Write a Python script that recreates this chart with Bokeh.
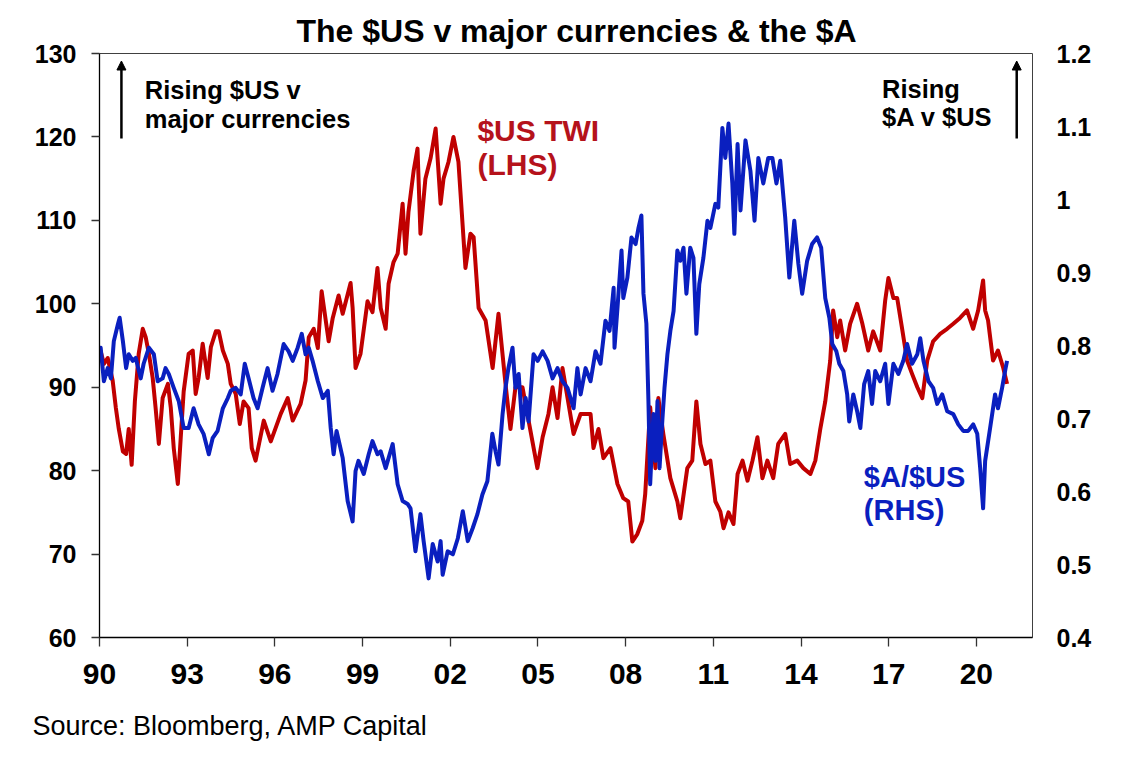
from bokeh.plotting import figure
from bokeh.models import (Range1d, LinearAxis, FixedTicker, CustomJSTickFormatter,
                          Label, Arrow, NormalHead, Title)
from bokeh.embed import file_html
from bokeh.resources import INLINE

# ---------------- data ----------------
twi_years = [1990.00, 1990.04, 1990.15, 1990.28, 1990.45, 1990.56, 1990.66, 1990.80, 1990.91, 1991.00,
             1991.10, 1991.21, 1991.34, 1991.48, 1991.58, 1991.69, 1991.82, 1991.92, 1992.03, 1992.16,
             1992.34, 1992.44, 1992.54, 1992.68, 1992.78, 1992.88, 1993.05, 1993.19, 1993.29, 1993.39,
             1993.53, 1993.70, 1993.81, 1993.98, 1994.08, 1994.22, 1994.39, 1994.49, 1994.66, 1994.80,
             1994.93, 1995.10, 1995.21, 1995.34, 1995.62, 1995.86, 1996.20, 1996.44, 1996.61, 1996.88,
             1997.05, 1997.16, 1997.33, 1997.47, 1997.60, 1997.84, 1997.98, 1998.18, 1998.32, 1998.59,
             1998.66, 1998.76, 1998.93, 1999.17, 1999.34, 1999.51, 1999.62, 1999.79, 1999.89, 2000.06,
             2000.20, 2000.37, 2000.47, 2000.57, 2000.75, 2000.88, 2000.98, 2001.15, 2001.33, 2001.50,
             2001.67, 2001.77, 2001.94, 2002.11, 2002.28, 2002.52, 2002.69, 2002.80, 2002.97, 2003.21,
             2003.45, 2003.65, 2003.89, 2004.06, 2004.23, 2004.47, 2004.68, 2004.98, 2005.16, 2005.36,
             2005.50, 2005.67, 2005.84, 2006.22, 2006.46, 2006.80, 2006.90, 2007.07, 2007.24, 2007.48,
             2007.72, 2007.92, 2008.09, 2008.23, 2008.40, 2008.57, 2008.67, 2008.84, 2009.02, 2009.12,
             2009.29, 2009.53, 2009.77, 2009.87, 2010.11, 2010.28, 2010.42, 2010.56, 2010.73, 2010.90,
             2011.07, 2011.24, 2011.35, 2011.52, 2011.69, 2011.83, 2012.00, 2012.17, 2012.34, 2012.51,
             2012.68, 2012.85, 2013.05, 2013.22, 2013.46, 2013.63, 2013.87, 2014.08, 2014.32, 2014.49,
             2014.66, 2014.83, 2015.00, 2015.10, 2015.24, 2015.34, 2015.51, 2015.68, 2015.92, 2016.10,
             2016.30, 2016.47, 2016.71, 2016.88, 2016.99, 2017.16, 2017.29, 2017.46, 2017.63, 2017.80,
             2017.98, 2018.15, 2018.32, 2018.52, 2018.76, 2019.00, 2019.21, 2019.44, 2019.68, 2019.89,
             2020.06, 2020.23, 2020.30, 2020.40, 2020.57, 2020.74, 2020.92, 2021.05]
twi_values = [93.0, 94.3, 92.8, 93.5, 90.8, 87.5, 85.0, 82.3, 82.0, 85.0,
              80.7, 88.3, 94.0, 97.0, 96.0, 94.0, 91.1, 87.5, 83.2, 88.7,
              90.4, 87.5, 82.7, 78.4, 84.0, 89.5, 94.0, 94.4, 89.2, 91.1,
              95.2, 91.1, 94.8, 96.7, 96.7, 94.4, 92.8, 90.4, 89.2, 85.6,
              88.3, 87.5, 82.7, 81.2, 86.0, 83.5, 86.8, 88.7, 86.0, 88.0,
              90.8, 96.0, 97.0, 94.7, 101.5, 95.5, 98.3, 101.0, 98.8, 102.5,
              99.5, 92.3, 94.0, 100.3, 99.0, 104.3, 99.5, 97.0, 102.4, 105.0,
              106.0, 112.0, 106.0, 111.0, 116.0, 118.6, 108.4, 115.0, 117.5, 121.0,
              112.0, 115.0, 117.0, 120.0, 117.0, 104.3, 108.4, 108.0, 99.5, 98.0,
              92.3, 98.8, 90.4, 85.0, 90.0, 90.0, 86.0, 80.3, 84.0, 86.8,
              90.0, 86.3, 92.3, 84.4, 86.8, 86.8, 82.7, 85.0, 81.5, 82.7,
              78.4, 76.7, 76.3, 71.5, 72.4, 74.0, 77.2, 87.6, 80.3, 88.7,
              84.4, 79.1, 76.3, 74.3, 80.3, 81.2, 88.3, 83.2, 80.8, 81.2,
              76.3, 75.1, 73.1, 75.0, 73.6, 79.6, 81.2, 78.8, 81.2, 84.0,
              79.1, 81.2, 79.1, 83.2, 84.4, 80.8, 81.2, 80.3, 79.6, 81.2,
              85.0, 88.3, 93.2, 99.2, 96.0, 98.0, 94.4, 97.6, 100.0, 97.6,
              94.4, 96.7, 94.4, 100.4, 103.1, 100.7, 100.7, 97.0, 93.2, 91.6,
              90.0, 88.7, 93.2, 95.5, 96.4, 97.0, 97.6, 98.3, 99.2, 97.0,
              99.2, 102.8, 99.2, 98.0, 93.2, 94.4, 92.3, 90.4]

aud_years = [1990.00, 1990.04, 1990.15, 1990.28, 1990.39, 1990.49, 1990.63, 1990.69, 1990.80, 1990.91,
             1991.00, 1991.14, 1991.24, 1991.41, 1991.51, 1991.69, 1991.86, 1991.99, 1992.16, 1992.26,
             1992.37, 1992.54, 1992.71, 1992.88, 1993.05, 1993.22, 1993.39, 1993.56, 1993.74, 1993.87,
             1994.04, 1994.22, 1994.39, 1994.49, 1994.66, 1994.83, 1994.97, 1995.10, 1995.27, 1995.41,
             1995.58, 1995.75, 1995.92, 1996.09, 1996.30, 1996.47, 1996.61, 1996.78, 1996.92, 1997.05,
             1997.16, 1997.29, 1997.47, 1997.64, 1997.81, 1997.91, 1998.01, 1998.11, 1998.32, 1998.49,
             1998.66, 1998.76, 1998.86, 1999.04, 1999.21, 1999.34, 1999.51, 1999.62, 1999.79, 2000.03,
             2000.20, 2000.37, 2000.54, 2000.64, 2000.81, 2000.98, 2001.09, 2001.26, 2001.40, 2001.57,
             2001.67, 2001.74, 2001.91, 2002.09, 2002.26, 2002.43, 2002.60, 2002.77, 2002.93, 2003.10,
             2003.27, 2003.44, 2003.55, 2003.65, 2003.79, 2003.89, 2003.99, 2004.13, 2004.23, 2004.34,
             2004.47, 2004.58, 2004.68, 2004.85, 2004.99, 2005.16, 2005.33, 2005.50, 2005.67, 2005.84,
             2006.01, 2006.22, 2006.35, 2006.46, 2006.63, 2006.80, 2006.97, 2007.14, 2007.31, 2007.45,
             2007.59, 2007.62, 2007.72, 2007.86, 2007.92, 2008.06, 2008.20, 2008.34, 2008.44, 2008.54,
             2008.61, 2008.71, 2008.78, 2008.84, 2008.95, 2009.02, 2009.09, 2009.16, 2009.26, 2009.33,
             2009.43, 2009.53, 2009.64, 2009.77, 2009.87, 2009.98, 2010.08, 2010.21, 2010.32, 2010.42,
             2010.52, 2010.66, 2010.80, 2010.90, 2011.07, 2011.17, 2011.31, 2011.41, 2011.52, 2011.65,
             2011.72, 2011.83, 2011.93, 2012.10, 2012.27, 2012.41, 2012.54, 2012.71, 2012.88, 2013.02,
             2013.16, 2013.29, 2013.46, 2013.60, 2013.77, 2013.91, 2014.04, 2014.21, 2014.38, 2014.55,
             2014.69, 2014.83, 2014.97, 2015.07, 2015.21, 2015.31, 2015.45, 2015.58, 2015.65, 2015.79,
             2015.92, 2016.03, 2016.16, 2016.30, 2016.43, 2016.54, 2016.71, 2016.88, 2016.99, 2017.16,
             2017.33, 2017.50, 2017.63, 2017.80, 2017.98, 2018.08, 2018.19, 2018.36, 2018.52, 2018.66,
             2018.83, 2019.00, 2019.21, 2019.38, 2019.55, 2019.72, 2019.89, 2020.03, 2020.13, 2020.23,
             2020.30, 2020.47, 2020.64, 2020.74, 2020.88, 2021.00, 2021.05]
aud_values = [0.790, 0.797, 0.751, 0.769, 0.755, 0.806, 0.829, 0.838, 0.806, 0.769,
              0.788, 0.779, 0.783, 0.755, 0.775, 0.797, 0.788, 0.751, 0.755, 0.769,
              0.761, 0.742, 0.724, 0.687, 0.687, 0.714, 0.692, 0.679, 0.651, 0.673,
              0.683, 0.714, 0.728, 0.738, 0.742, 0.733, 0.775, 0.755, 0.728, 0.714,
              0.742, 0.769, 0.738, 0.761, 0.802, 0.792, 0.779, 0.797, 0.816, 0.788,
              0.797, 0.779, 0.751, 0.728, 0.738, 0.687, 0.651, 0.683, 0.646, 0.587,
              0.559, 0.628, 0.642, 0.624, 0.651, 0.669, 0.651, 0.655, 0.632, 0.665,
              0.610, 0.587, 0.583, 0.577, 0.518, 0.569, 0.532, 0.481, 0.528, 0.504,
              0.532, 0.486, 0.518, 0.514, 0.536, 0.573, 0.532, 0.550, 0.569, 0.596,
              0.614, 0.679, 0.655, 0.637, 0.706, 0.742, 0.769, 0.797, 0.742, 0.761,
              0.687, 0.728, 0.696, 0.788, 0.779, 0.792, 0.779, 0.755, 0.769, 0.751,
              0.742, 0.714, 0.769, 0.733, 0.769, 0.751, 0.792, 0.775, 0.834, 0.820,
              0.879, 0.797, 0.851, 0.930, 0.865, 0.893, 0.948, 0.939, 0.961, 0.978,
              0.871, 0.830, 0.724, 0.610, 0.706, 0.642, 0.724, 0.632, 0.700, 0.742,
              0.788, 0.820, 0.847, 0.930, 0.916, 0.934, 0.871, 0.934, 0.920, 0.816,
              0.884, 0.920, 0.971, 0.961, 0.994, 0.989, 1.098, 1.057, 1.104, 1.022,
              0.953, 1.076, 0.985, 1.081, 1.039, 0.971, 1.057, 1.022, 1.057, 1.057,
              1.022, 1.053, 0.975, 0.893, 0.971, 0.912, 0.871, 0.916, 0.939, 0.948,
              0.934, 0.865, 0.838, 0.802, 0.792, 0.775, 0.765, 0.733, 0.696, 0.733,
              0.710, 0.687, 0.747, 0.765, 0.720, 0.765, 0.751, 0.775, 0.720, 0.775,
              0.761, 0.779, 0.802, 0.775, 0.788, 0.810, 0.779, 0.751, 0.742, 0.720,
              0.733, 0.710, 0.706, 0.692, 0.683, 0.683, 0.692, 0.679, 0.632, 0.577,
              0.642, 0.687, 0.733, 0.714, 0.742, 0.769, 0.779]

x_ticks = [1990, 1993, 1996, 1999, 2002, 2005, 2008, 2011, 2014, 2017, 2020]
x_tick_labels = ["90", "93", "96", "99", "02", "05", "08", "11", "14", "17", "20"]
left_ticks = [60, 70, 80, 90, 100, 110, 120, 130]
left_tick_labels = ["60", "70", "80", "90", "100", "110", "120", "130"]
right_ticks = [0.4, 0.5, 0.6, 0.7, 0.8, 0.9, 1.0, 1.1, 1.2]
right_tick_labels = ["0.4", "0.5", "0.6", "0.7", "0.8", "0.9", "1", "1.1", "1.2"]

title_text = "The $US v major currencies & the $A"
source_text = "Source: Bloomberg, AMP Capital"

# ---------------- styling ----------------
FONT = "Liberation Sans"
RED = "#C00000"
RED_TXT = "#B5121B"
BLUE = "#0A1FBF"

p = figure(frame_width=933, frame_height=584, output_backend="svg", toolbar_location=None,
           x_range=Range1d(1990, 2021.92), y_range=Range1d(60, 130),
           min_border_left=99, min_border_right=81, min_border_top=53, min_border_bottom=0,
           background_fill_color="white", border_fill_color="white")
p.extra_y_ranges = {"right": Range1d(0.4, 1.2)}
p.grid.visible = False
p.outline_line_color = "#404040"
p.outline_line_width = 1

p.title.text = title_text
p.title.align = "left"
p.title.offset = 197
p.title.text_font = FONT
p.title.text_font_size = "32px"
p.title.text_font_style = "bold"
p.title.text_color = "black"
p.title.standoff = 10

src = Title(text=source_text, align="left", offset=-67, text_font=FONT,
            text_font_size="27px", text_font_style="normal", text_color="black", standoff=44)
p.add_layout(src, "below")

def fmt(tick_values, tick_labels):
    return CustomJSTickFormatter(args=dict(tvals=tick_values, tlabs=tick_labels),
                                 code="const i = tvals.indexOf(tick); return i >= 0 ? tlabs[i] : '';")

xa = p.xaxis[0]
xa.ticker = FixedTicker(ticks=x_ticks)
xa.formatter = fmt(x_ticks, x_tick_labels)
xa.major_label_text_font = FONT
xa.major_label_text_font_style = "bold"
xa.major_label_text_font_size = "30px"
xa.major_label_text_color = "black"
xa.major_tick_out = 9
xa.major_tick_in = 0
xa.minor_tick_line_color = None
xa.major_label_standoff = 17
xa.axis_line_color = "black"
xa.axis_line_width = 1.3
xa.major_tick_line_width = 1.3
xa.major_tick_line_color = "#333333"

ya = p.yaxis[0]
ya.ticker = FixedTicker(ticks=left_ticks)
ya.formatter = fmt(left_ticks, left_tick_labels)
ya.major_label_text_font = FONT
ya.major_label_text_font_style = "bold"
ya.major_label_text_font_size = "25px"
ya.major_label_text_color = "black"
ya.major_tick_out = 8
ya.major_tick_in = 0
ya.minor_tick_line_color = None
ya.major_label_standoff = 15
ya.axis_line_color = "black"
ya.axis_line_width = 1.3
ya.major_tick_line_width = 1.3
ya.major_tick_line_color = "#333333"

ra = LinearAxis(y_range_name="right", ticker=FixedTicker(ticks=right_ticks),
                formatter=fmt(right_ticks, right_tick_labels))
ra.major_label_text_font = FONT
ra.major_label_text_font_style = "bold"
ra.major_label_text_font_size = "25px"
ra.major_label_text_color = "black"
ra.major_tick_out = 0
ra.major_tick_in = 0
ra.major_tick_line_color = None
ra.minor_tick_line_color = None
ra.axis_line_color = None
ra.major_label_standoff = 24
p.add_layout(ra, "right")

# ---------------- series ----------------
p.line(twi_years, twi_values, line_color=RED, line_width=4, line_join="round")
p.line(aud_years, aud_values, line_color=BLUE, line_width=4, line_join="round",
       y_range_name="right")

# ---------------- texts inside the frame ----------------
def lab(x, y, text, size, color="black", style="bold", align="left"):
    p.add_layout(Label(x=x, y=y, text=text, text_font=FONT, text_font_size=size,
                       text_font_style=style, text_color=color, text_align=align,
                       text_baseline="alphabetic"))

lab(1991.55, 125.61, "Rising $US v", "25.5px")
lab(1991.55, 122.14, "major currencies", "25.5px")
lab(2016.77, 125.73, "Rising", "25.5px")
lab(2016.77, 122.33, "$A v $US", "25.5px")

lab(2002.93, 120.73, "$US TWI", "30px", color=RED_TXT)
lab(2002.93, 116.66, "(LHS)", "30px", color=RED_TXT)
lab(2016.15, 79.26, "$A/$US", "29px", color=BLUE)
lab(2016.15, 75.27, "(RHS)", "29px", color=BLUE)

for xa_ in (1990.75, 2021.38):
    p.add_layout(Arrow(end=NormalHead(size=9, fill_color="black", line_color="black", line_width=1),
                       x_start=xa_, y_start=119.8, x_end=xa_, y_end=129.1,
                       line_color="black", line_width=2.5))

open("out.html", "w").write(file_html(p, INLINE))
